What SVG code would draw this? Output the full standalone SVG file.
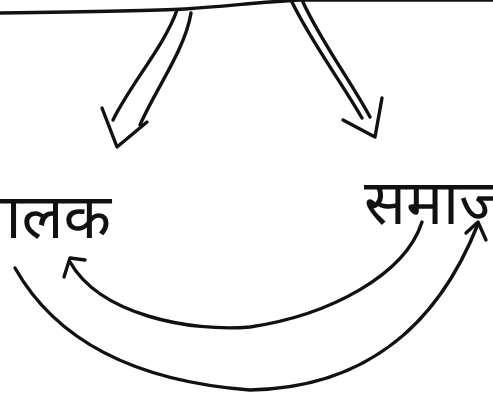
<svg xmlns="http://www.w3.org/2000/svg" width="493" height="406" viewBox="0 0 493 406">
<style>
.ln{fill:none;stroke:#111;stroke-width:3.4;stroke-linecap:round;stroke-linejoin:round}
.lbl{font-family:'Noto Sans Devanagari','Noto Sans','DejaVu Sans',sans-serif;font-size:62px;fill:#111}
</style>
<rect width="493" height="406" fill="#fff"/>
<g id="top-line"><path class="ln" d="M0,13 C80,12 150,11 185,9 C230,6 260,2 300,0 L493,0"/></g>
<g id="balak"><text class="lbl" x="-30" y="238">बालक</text></g>
<g id="samaj"><text class="lbl" x="364" y="224">समाज</text></g>
<g id="connectors">
<path class="ln" d="M177,10 C165,45 130,85 113,120"/>
<path class="ln" d="M191,13 C185,50 155,90 140,125"/>
<path class="ln" d="M102,108 L117,147 L147,122"/>
<path class="ln" d="M291,0 C310,40 340,80 362,118"/>
<path class="ln" d="M302,0 C320,40 350,80 370,117"/>
<path class="ln" d="M343,120 L375,137 L382,98"/>
<path class="ln" d="M422,222 C405,275 330,315 250,327 C190,332 100,315 70,262"/>
<path class="ln" d="M64,277 L70,258 L85,260"/>
<path class="ln" d="M15,268 C50,330 120,380 250,390 C370,388 440,320 478,224"/>
<path class="ln" d="M466,233 L478,222 L486,240"/>
</g>
</svg>
